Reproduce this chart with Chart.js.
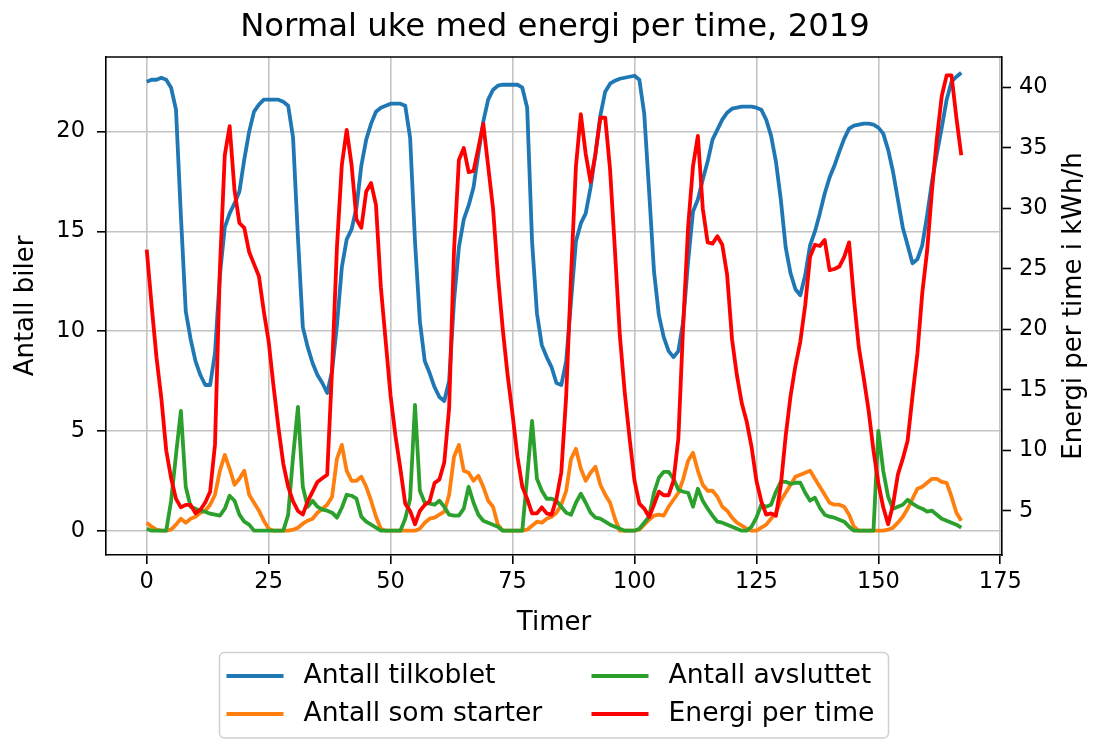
<!DOCTYPE html>
<html lang="no">
<head>
<meta charset="utf-8">
<title>Normal uke med energi per time, 2019</title>
<script src="https://cdn.jsdelivr.net/npm/chart.js@4.4.1/dist/chart.umd.min.js"></script>
<style>
  html, body { margin: 0; padding: 0; background: #fff; }
  #graf { display: block; }
</style>
</head>
<body>
<canvas id="graf" width="1095" height="740"></canvas>
<script>
// Verdier lest av figuren, én per time gjennom en normal uke (time 0-167)
const timer = Array.from({ length: 168 }, (_, i) => i);

const tilkoblet = [
  22.5, 22.6, 22.6, 22.7, 22.6, 22.2, 21.1, 15.8, 11.0, 9.6,
  8.5, 7.8, 7.3, 7.3, 8.9, 12.8, 15.2, 15.9, 16.4, 17.0,
  18.6, 20.0, 21.0, 21.35, 21.6, 21.6, 21.6, 21.6, 21.5, 21.3,
  19.7, 14.7, 10.2, 9.2, 8.4, 7.8, 7.4, 6.9, 8.0, 10.3,
  13.2, 14.6, 15.1, 16.2, 18.3, 19.6, 20.4, 21.0, 21.2, 21.3,
  21.4, 21.4, 21.4, 21.3, 19.7, 14.5, 10.5, 8.5, 7.9, 7.2,
  6.7, 6.5, 7.5, 11.5, 14.2, 15.6, 16.3, 17.2, 18.9, 20.5,
  21.6, 22.1, 22.3, 22.35, 22.35, 22.35, 22.35, 22.2, 21.2, 14.5,
  10.9, 9.3, 8.7, 8.2, 7.4, 7.3, 8.5, 11.5, 14.5, 15.4,
  15.9, 17.2, 18.9, 20.8, 22.0, 22.4, 22.55, 22.65, 22.7, 22.75,
  22.8, 22.6, 20.9, 17.0, 13.0, 10.8, 9.7, 9.0, 8.7, 9.0,
  10.5, 13.5, 16.0, 16.6, 17.6, 18.5, 19.6, 20.1, 20.6, 20.95,
  21.15, 21.2, 21.25, 21.25, 21.25, 21.2, 21.1, 20.6, 19.8, 18.5,
  16.6, 14.2, 12.9, 12.1, 11.8, 12.8, 14.3, 15.0, 15.9, 16.9,
  17.7, 18.3, 19.0, 19.65, 20.15, 20.3, 20.35, 20.4, 20.4, 20.35,
  20.2, 19.9, 19.1, 18.0, 16.6, 15.2, 14.3, 13.4, 13.6, 14.3,
  15.8, 17.5, 18.9, 20.2, 21.6, 22.5, 22.75, 22.95
];

const starter = [
  0.4, 0.2, 0.05, 0, 0, 0.05, 0.3, 0.6, 0.4, 0.6,
  0.7, 0.9, 1.0, 1.3, 1.8, 3.0, 3.8, 3.1, 2.3, 2.6,
  3.0, 1.8, 1.4, 1.0, 0.5, 0.1, 0, 0, 0, 0,
  0.05, 0.15, 0.35, 0.5, 0.6, 0.9, 1.1, 1.3, 1.7, 3.6,
  4.3, 3.0, 2.5, 2.5, 2.7, 2.2, 1.5, 0.7, 0.1, 0,
  0, 0, 0, 0, 0, 0, 0.1, 0.4, 0.6, 0.65,
  0.8, 0.95, 1.8, 3.7, 4.3, 3.0, 2.9, 2.5, 2.75, 2.2,
  1.5, 1.2, 0.3, 0, 0, 0, 0, 0, 0.05, 0.25,
  0.45, 0.4, 0.6, 0.7, 0.9, 1.3, 2.0, 3.6, 4.1, 3.1,
  2.5, 2.9, 3.2, 2.3, 1.8, 1.4, 0.6, 0, 0, 0,
  0, 0.05, 0.3, 0.55, 0.75, 0.8, 0.75, 1.2, 1.55, 1.9,
  2.6, 3.5, 3.9, 3.0, 2.3, 2.0, 2.0, 1.7, 1.2, 1.0,
  0.65, 0.4, 0.25, 0.1, 0, 0, 0.15, 0.3, 0.6, 0.9,
  1.5, 1.9, 2.3, 2.7, 2.8, 2.9, 3.0, 2.6, 2.2, 1.8,
  1.4, 1.3, 1.3, 1.2, 0.8, 0.2, 0, 0, 0, 0,
  0, 0, 0.05, 0.15, 0.4, 0.7, 1.1, 1.6, 2.1, 2.2,
  2.4, 2.6, 2.6, 2.45, 2.4, 1.7, 0.9, 0.5
];

const avsluttet = [
  0.1, 0, 0, 0, 0, 1.5, 3.8, 6.0, 2.2, 1.2,
  1.1, 1.0, 0.95, 0.85, 0.8, 0.75, 1.1, 1.75, 1.5, 0.8,
  0.45, 0.3, 0, 0, 0, 0, 0, 0, 0, 0.8,
  3.7, 6.2, 2.2, 1.2, 1.5, 1.2, 1.05, 1.0, 0.9, 0.65,
  1.15, 1.8, 1.75, 1.6, 0.7, 0.45, 0.3, 0.15, 0, 0,
  0, 0, 0, 0.6, 1.6, 6.3, 2.0, 1.4, 1.35, 1.3,
  1.5, 1.2, 0.8, 0.75, 0.75, 1.1, 2.2, 1.4, 0.8, 0.5,
  0.4, 0.3, 0.2, 0, 0, 0, 0, 0, 2.7, 5.5,
  2.6, 2.0, 1.6, 1.6, 1.5, 1.2, 0.9, 0.8, 1.4, 1.85,
  1.4, 0.9, 0.65, 0.6, 0.45, 0.3, 0.2, 0.1, 0, 0,
  0, 0.1, 0.4, 0.7, 1.9, 2.65, 2.95, 2.95, 2.6, 2.05,
  1.95, 1.9, 1.2, 2.1, 1.5, 1.1, 0.75, 0.45, 0.4, 0.3,
  0.2, 0.1, 0, 0, 0.2, 0.65, 1.3, 1.2, 1.3, 1.95,
  2.45, 2.45, 2.35, 2.4, 2.4, 1.9, 1.5, 1.65, 1.15, 0.8,
  0.7, 0.65, 0.55, 0.45, 0.2, 0, 0, 0, 0, 0,
  5.0, 3.0, 1.7, 1.1, 1.2, 1.3, 1.55, 1.35, 1.2, 1.1,
  0.95, 1.0, 0.8, 0.6, 0.5, 0.4, 0.3, 0.15
];

const energi = [
  26.6, 22.0, 17.7, 14.3, 10.0, 7.7, 6.0, 5.3, 5.5, 5.5,
  4.8, 5.1, 5.7, 6.6, 10.5, 25.0, 34.4, 36.8, 31.5, 28.8,
  28.4, 26.4, 25.4, 24.4, 21.5, 19.0, 15.3, 11.9, 8.9, 7.0,
  5.8, 5.0, 4.7, 5.8, 6.6, 7.4, 7.7, 8.0, 16.7, 26.8,
  33.6, 36.5, 33.6, 29.1, 28.4, 31.4, 32.1, 30.3, 23.5, 19.0,
  14.5, 11.2, 8.5, 5.6, 5.0, 3.9, 5.0, 5.5, 5.8, 7.3,
  7.6, 9.0, 13.5, 26.5, 34.0, 35.0, 33.0, 33.1, 35.0, 37.0,
  33.5, 30.0, 24.5, 20.0, 16.2, 13.0, 9.5, 7.0, 6.0, 4.8,
  4.8, 5.3, 4.8, 4.7, 6.0, 8.2, 14.5, 24.5, 33.5, 37.8,
  34.5, 32.2, 34.5, 37.5, 37.5, 33.2, 26.5, 19.5, 14.8, 11.0,
  7.5, 5.6, 5.2, 4.5, 5.5, 6.6, 6.3, 6.3, 7.5, 11.0,
  20.5, 28.5, 33.5, 36.0, 30.0, 27.2, 27.1, 27.7, 27.0, 24.5,
  19.2, 16.2, 13.9, 12.4, 10.3, 7.5, 5.8, 4.7, 4.8, 4.6,
  7.1, 11.2, 14.5, 17.0, 19.0, 22.0, 26.0, 27.0, 26.9, 27.4,
  24.9, 25.0, 25.2, 26.0, 27.2, 22.5, 18.5, 16.0, 13.3, 10.0,
  7.3, 5.3, 3.9, 5.5, 8.0, 9.3, 10.8, 14.5, 18.0, 23.0,
  26.5, 31.5, 35.8, 39.3, 41.0, 41.0, 37.5, 34.4
];

const xTicks = [0, 25, 50, 75, 100, 125, 150, 175];
const venstreTicks = [0, 5, 10, 15, 20];
const hoyreTicks = [5, 10, 15, 20, 25, 30, 35, 40];

const tittel = 'Normal uke med energi per time, 2019';
const xTittel = 'Timer';
const venstreTittel = 'Antall biler';
const hoyreTittel = 'Energi per time i kWh/h';

const fontFamilie = '"DejaVu Sans", Verdana, sans-serif';
const gridFarge = '#c4c4c4';

function punkter(verdier) {
  return verdier.map((v, i) => ({ x: timer[i], y: v }));
}

function fasteTicks(verdier) {
  return function (scale) {
    scale.ticks = verdier.map(v => ({ value: v }));
  };
}

// Tittel, aksetitler, øvre ramme og forklaring tegnes her
const tekstPlugin = {
  id: 'tekster',
  afterDraw(chart) {
    const ctx = chart.ctx;
    const a = chart.chartArea;
    const midtX = (a.left + a.right) / 2;
    const midtY = (a.top + a.bottom) / 2;
    ctx.save();

    ctx.strokeStyle = '#000';
    ctx.lineWidth = 1.6;
    ctx.beginPath();
    ctx.moveTo(a.left, a.top);
    ctx.lineTo(a.right, a.top);
    ctx.stroke();

    ctx.fillStyle = '#000';
    ctx.textAlign = 'center';
    ctx.textBaseline = 'alphabetic';
    ctx.font = '32.3px ' + fontFamilie;
    ctx.fillText(tittel, midtX + 1, 36);

    ctx.font = '26px ' + fontFamilie;
    ctx.fillText(xTittel, midtX, 630);

    ctx.save();
    ctx.translate(33, midtY);
    ctx.rotate(-Math.PI / 2);
    ctx.fillText(venstreTittel, 0, 0);
    ctx.restore();

    ctx.save();
    ctx.translate(1081, midtY);
    ctx.rotate(-Math.PI / 2);
    ctx.fillText(hoyreTittel, 0, 0);
    ctx.restore();

    // forklaring i to kolonner
    const boks = { x: 219.5, y: 652.5, w: 669, h: 85.5, r: 5 };
    ctx.beginPath();
    ctx.roundRect(boks.x, boks.y, boks.w, boks.h, boks.r);
    ctx.fillStyle = 'rgba(255,255,255,0.8)';
    ctx.fill();
    ctx.strokeStyle = '#d0d0d0';
    ctx.lineWidth = 1.5;
    ctx.stroke();

    const kolonner = [226.5, 591.5];
    const rader = [676, 714];
    const rekkefolge = [0, 1, 2, 3];
    ctx.font = '26.6px ' + fontFamilie;
    ctx.textAlign = 'left';
    ctx.textBaseline = 'middle';
    rekkefolge.forEach((idx, n) => {
      const ds = chart.data.datasets[idx];
      const x = kolonner[Math.floor(n / 2)];
      const y = rader[n % 2];
      ctx.strokeStyle = ds.borderColor;
      ctx.lineWidth = 4;
      ctx.beginPath();
      ctx.moveTo(x, y);
      ctx.lineTo(x + 57, y);
      ctx.stroke();
      ctx.fillStyle = '#000';
      ctx.fillText(ds.label, x + 77, y);
    });

    ctx.restore();
  }
};

const tickFont = { family: fontFamilie, size: 22.5 };

const ctx = document.getElementById('graf').getContext('2d');
const graf = new Chart(ctx, {
  type: 'line',
  data: {
    datasets: [
      { label: 'Antall tilkoblet', data: punkter(tilkoblet), borderColor: '#1f77b4', yAxisID: 'y', order: 3 },
      { label: 'Antall som starter', data: punkter(starter), borderColor: '#ff7f0e', yAxisID: 'y', order: 2 },
      { label: 'Antall avsluttet', data: punkter(avsluttet), borderColor: '#2ca02c', yAxisID: 'y', order: 1 },
      { label: 'Energi per time', data: punkter(energi), borderColor: '#ff0000', yAxisID: 'y2', order: 0 }
    ]
  },
  options: {
    responsive: false,
    animation: false,
    devicePixelRatio: 1,
    layout: { padding: { top: 57, left: 0, right: 0, bottom: 0 } },
    elements: {
      line: { borderWidth: 3.8, tension: 0, borderJoinStyle: 'round', fill: false },
      point: { radius: 0, hoverRadius: 0 }
    },
    plugins: {
      legend: { display: false },
      title: { display: false },
      tooltip: { enabled: false }
    },
    scales: {
      x: {
        type: 'linear',
        min: -8.35,
        max: 175.35,
        afterBuildTicks: fasteTicks(xTicks),
        afterFit: s => { s.height = 185; },
        grid: { color: gridFarge, lineWidth: 1.6, tickLength: 9, tickColor: '#000', tickWidth: 1.6 },
        border: { color: '#000', width: 1.6 },
        ticks: { font: tickFont, color: '#000', padding: 5, maxRotation: 0, autoSkip: false }
      },
      y: {
        position: 'left',
        min: -1.22,
        max: 23.74,
        afterBuildTicks: fasteTicks(venstreTicks),
        afterFit: s => { s.width = 106; },
        grid: { color: gridFarge, lineWidth: 1.6, tickLength: 9, tickColor: '#000', tickWidth: 1.6 },
        border: { color: '#000', width: 1.6 },
        ticks: { font: tickFont, color: '#000', padding: 12 }
      },
      y2: {
        position: 'right',
        min: 1.36,
        max: 42.52,
        afterBuildTicks: fasteTicks(hoyreTicks),
        afterFit: s => { s.width = 93; },
        grid: { drawOnChartArea: false, tickLength: 9, tickColor: '#000', tickWidth: 1.6 },
        border: { color: '#000', width: 1.6 },
        ticks: { font: tickFont, color: '#000', padding: 8 }
      }
    }
  },
  plugins: [tekstPlugin]
});
</script>
</body>
</html>
